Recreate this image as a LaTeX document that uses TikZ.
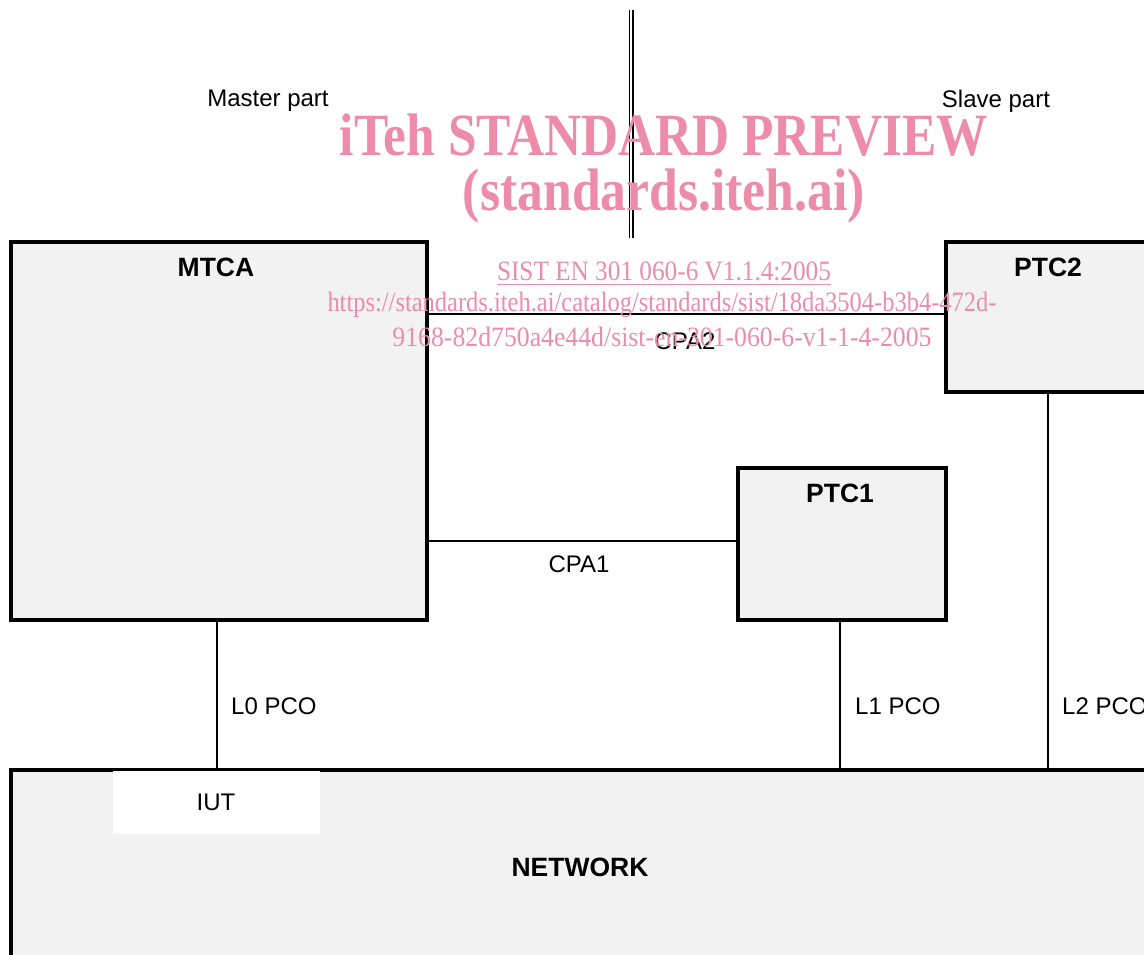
\documentclass[tikz,border=0pt]{standalone}
\usepackage{fontspec}
\setmainfont{Liberation Serif}
\setsansfont{Liberation Sans}
\usepackage{graphicx}
\definecolor{boxfill}{RGB}{242,242,242}
\definecolor{wm}{RGB}{236,140,170}
\begin{document}
\begin{tikzpicture}[x=1pt,y=-1pt,
  blk/.style={draw=black,line width=4pt,fill=boxfill,inner sep=0pt,anchor=north west},
  lbl/.style={font=\sffamily\fontsize{24}{28}\selectfont,inner sep=0pt},
  blbl/.style={font=\sffamily\bfseries\fontsize{26.5}{30}\selectfont,inner sep=0pt},
  conn/.style={line width=2pt},
  wmk/.style={text=wm,inner sep=0pt}]
\useasboundingbox (0,0) rectangle (1144,955);
\clip (0,0) rectangle (1144,955);
\fill[white] (0,0) rectangle (1144,955);
% connectors (under boxes)
\coordinate (c2l) at (424,314);
\coordinate (c2r) at (944,314);
\coordinate (c1l) at (424,541);
\coordinate (c1r) at (736,541);
\coordinate (l0t) at (217,618);
\coordinate (l0b) at (217,768);
\coordinate (l1t) at (840,618);
\coordinate (l1b) at (840,768);
\coordinate (l2t) at (1048,390);
\coordinate (l2b) at (1048,768);
\draw[conn] (c2l) -- (c2r);
\draw[conn] (c1l) -- (c1r);
\draw[conn] (l0t) -- (l0b);
\draw[conn] (l1t) -- (l1b);
\draw[conn] (l2t) -- (l2b);
% boxes
\node[blk,minimum width=416pt,minimum height=378pt] (MTCA) at (8.5,240) {};
\node[blk,minimum width=260pt,minimum height=150pt] (PTC2) at (944,240) {};
\node[blk,minimum width=208pt,minimum height=152pt] (PTC1) at (736,466) {};
\node[blk,minimum width=1200pt,minimum height=260pt] (NET) at (8.5,768) {};
\fill[white] (113,771) rectangle (320,834);
% double separator
\coordinate (sepa) at (629.5,10);
\coordinate (sepb) at (629.5,238);
\coordinate (sepc) at (633,10);
\coordinate (sepd) at (633,238);
\draw[line width=1.5pt] (sepa) -- (sepb);
\draw[line width=1.5pt] (sepc) -- (sepd);
% labels
\node[lbl] (mp) at (268,101) {Master part};
\node[lbl] (sp) at (996,101) {Slave part};
\node[blbl] (tMTCA) at (216,267) {MTCA};
\node[blbl] (tPTC2) at (1048,267) {PTC2};
\node[blbl] (tPTC1) at (840,493) {PTC1};
\node[blbl] (tNET) at (580,867) {NETWORK};
\node[lbl] (tIUT) at (216,802) {IUT};
\node[lbl] (tCPA2) at (685,341) {CPA2};
\node[lbl] (tCPA1) at (579,564) {CPA1};
\node[lbl,anchor=west] (tL0) at (231,706) {L0 PCO};
\node[lbl,anchor=west] (tL1) at (855,706) {L1 PCO};
\node[lbl,anchor=west] (tL2) at (1062,706) {L2 PCO};
% watermark
\node[wmk] (w1) at (664,135) {\resizebox{648pt}{\height}{\fontsize{60}{66}\selectfont\bfseries iTeh STANDARD PREVIEW}};
\node[wmk] (w2) at (664,196) {\resizebox{402pt}{\height}{\fontsize{60}{66}\selectfont\bfseries (standards.iteh.ai)}};
\node[wmk] (w3) at (664,271) {\resizebox{334pt}{\height}{\fontsize{28}{32}\selectfont SIST EN 301 060-6 V1.1.4:2005}};
\draw[wm,line width=1pt] (497,284) -- (831,284);
\node[wmk] (w4) at (662,305) {\resizebox{669pt}{\height}{\fontsize{28}{32}\selectfont https://standards.iteh.ai/catalog/standards/sist/18da3504-b3b4-472d-}};
\node[wmk] (w5) at (662,337) {\resizebox{539pt}{\height}{\fontsize{28}{32}\selectfont 9168-82d750a4e44d/sist-en-301-060-6-v1-1-4-2005}};
\end{tikzpicture}
\end{document}
